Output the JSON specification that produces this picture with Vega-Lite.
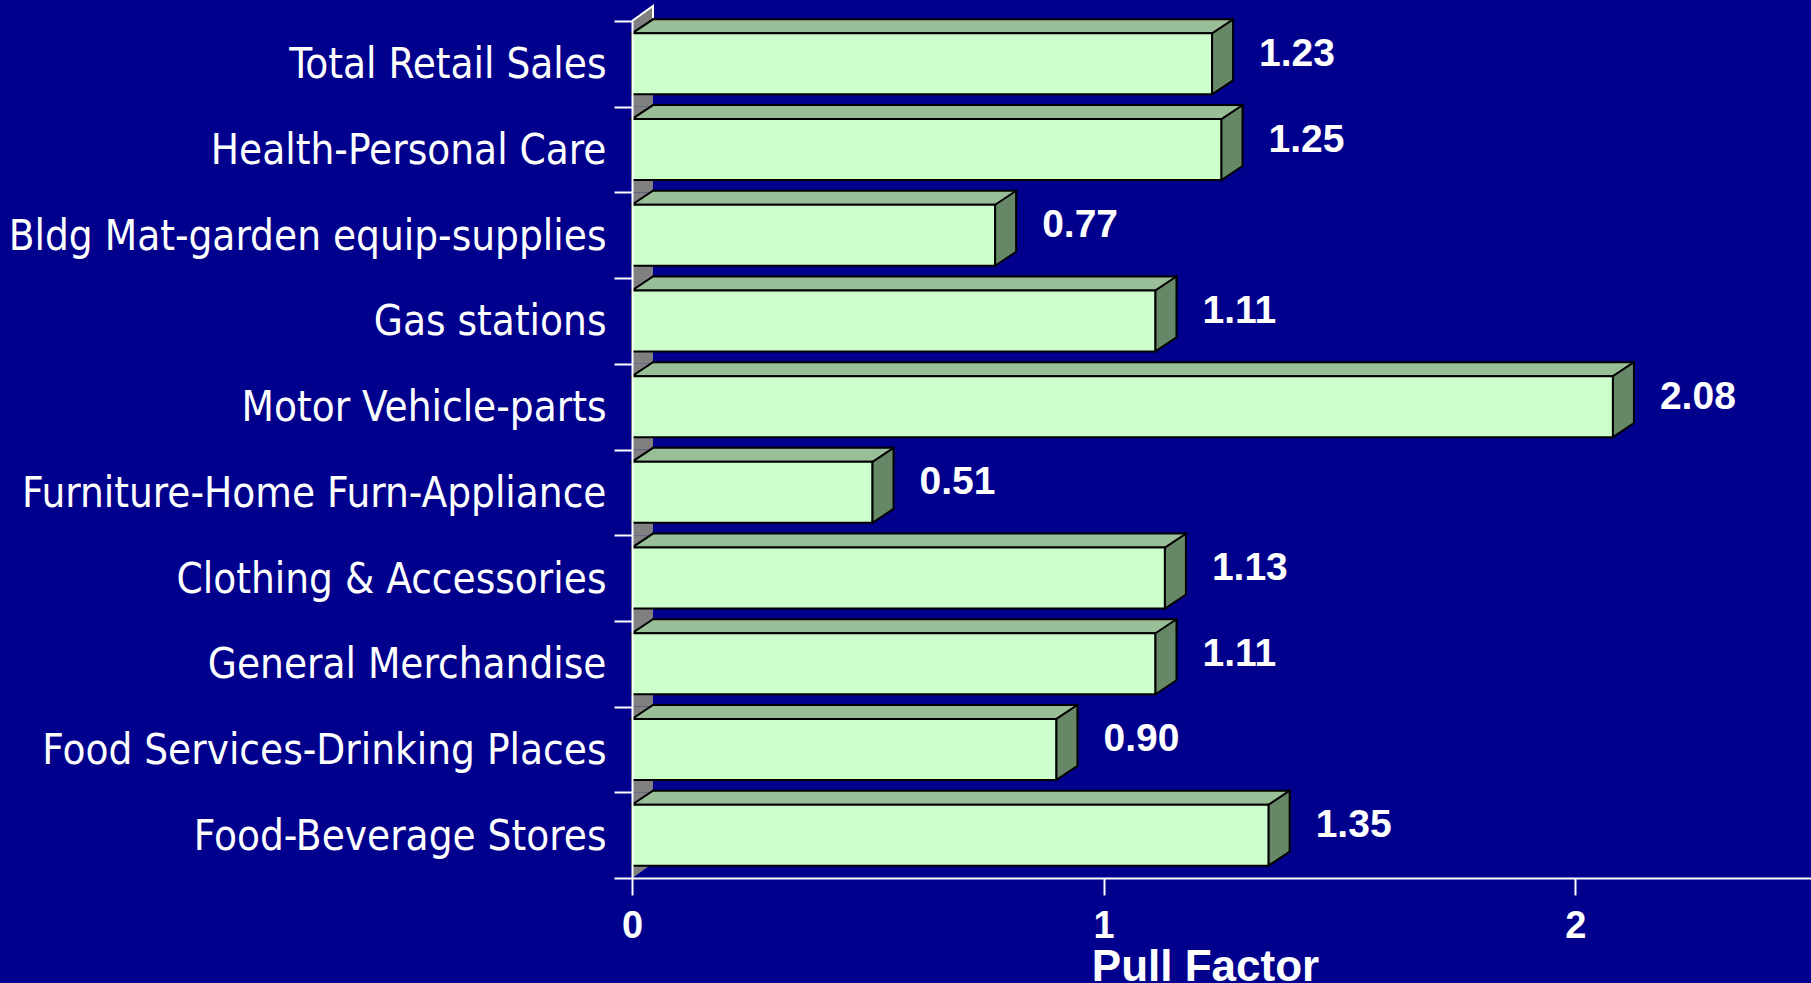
{
  "$schema": "https://vega.github.io/schema/vega-lite/v6.json",
  "width": 1179,
  "height": 857,
  "autosize": "none",
  "padding": {"left": 632, "top": 21, "right": 0, "bottom": 105},
  "background": "#00008D",
  "config": {"view": {"stroke": null}, "font": "Liberation Sans"},
  "data": {
    "values": [
      {"category": "Total Retail Sales", "value": 1.23},
      {"category": "Health-Personal Care", "value": 1.25},
      {"category": "Bldg Mat-garden equip-supplies", "value": 0.77},
      {"category": "Gas stations", "value": 1.11},
      {"category": "Motor Vehicle-parts", "value": 2.08},
      {"category": "Furniture-Home Furn-Appliance", "value": 0.51},
      {"category": "Clothing & Accessories", "value": 1.13},
      {"category": "General Merchandise", "value": 1.11},
      {"category": "Food Services-Drinking Places", "value": 0.90},
      {"category": "Food-Beverage Stores", "value": 1.35}
    ]
  },
  "encoding": {
    "y": {
      "field": "category",
      "type": "nominal",
      "sort": null,
      "scale": {"paddingInner": 0, "paddingOuter": 0},
      "axis": {
        "title": null,
        "domainColor": "white",
        "domainWidth": 2,
        "tickColor": "white",
        "tickWidth": 2,
        "tickSize": 18,
        "tickBand": "extent",
        "labelColor": "white",
        "labelFont": "DejaVu Sans Condensed, Liberation Sans, sans-serif",
        "labelFontSize": 41.8,
        "labelPadding": 8,
        "labelLimit": 800,
        "labelOffset": 1,
        "zindex": 1
      }
    }
  },
  "layer": [
    {
      "mark": {"type": "rect", "fill": "#808080", "x2Offset": 21},
      "encoding": {
        "x": {"datum": 0, "type": "quantitative", "scale": {"domain": [0, 2.5], "nice": false}},
        "x2": {"datum": 0}
      }
    },
    {
      "transform": [{"filter": "datum.category === 'Total Retail Sales'"}],
      "mark": {"type": "point", "shape": "M0,-42.85L21,-57.85L21,-40", "size": 4, "filled": true, "fill": "#808080", "stroke": "white", "strokeWidth": 2, "opacity": 1},
      "encoding": {"x": {"datum": 0, "type": "quantitative"}}
    },
    {
      "transform": [{"filter": "datum.category === 'Food-Beverage Stores'"}],
      "mark": {"type": "point", "shape": "M0,43L21,28L22,28L22,44L0,44Z", "size": 4, "filled": true, "fill": "#00008D", "strokeWidth": 0, "opacity": 1},
      "encoding": {"x": {"datum": 0, "type": "quantitative"}}
    },
    {
      "mark": {"type": "bar", "height": 14, "yOffset": -37.5, "xOffset": 21, "x2Offset": 21, "fill": "#99BF99", "stroke": "black", "strokeWidth": 2},
      "encoding": {
        "x": {"field": "value", "type": "quantitative"},
        "x2": {"datum": 0}
      }
    },
    {
      "mark": {"type": "point", "shape": "M23,-30.5L0,-30.5L21,-44.5L23,-44.5", "size": 4, "filled": true, "fill": "#99BF99", "stroke": "black", "strokeWidth": 2, "opacity": 1},
      "encoding": {"x": {"datum": 0, "type": "quantitative"}}
    },
    {
      "mark": {"type": "bar", "height": 61, "fill": "#CCFFCC", "stroke": "black", "strokeWidth": 2},
      "encoding": {
        "x": {
          "field": "value",
          "type": "quantitative",
          "axis": {
            "values": [0, 1, 2],
            "format": "d",
            "grid": false,
            "title": "Pull Factor",
            "titleColor": "white",
            "titleFontSize": 44,
            "titleFontWeight": "bold",
            "titlePadding": 0,
            "titleX": 573,
            "labelColor": "white",
            "labelFontSize": 38,
            "labelFontWeight": "bold",
            "labelPadding": 12,
            "labelFlush": false,
            "tickSize": 17,
            "tickWidth": 2,
            "tickColor": "white",
            "domainColor": "white",
            "domainWidth": 2,
            "zindex": 1
          }
        },
        "x2": {"datum": 0}
      }
    },
    {
      "mark": {"type": "point", "shape": "M0,-30.5L21,-44.5L21,16.5L0,30.5Z", "size": 4, "filled": true, "fill": "#668866", "stroke": "black", "strokeWidth": 2, "opacity": 1},
      "encoding": {"x": {"field": "value", "type": "quantitative"}}
    },
    {
      "mark": {"type": "text", "align": "left", "baseline": "middle", "dx": 47, "dy": -10, "fontSize": 39, "fontWeight": "bold", "fill": "white"},
      "encoding": {
        "x": {"field": "value", "type": "quantitative"},
        "text": {"field": "value", "type": "quantitative", "format": ".2f"}
      }
    }
  ]
}
